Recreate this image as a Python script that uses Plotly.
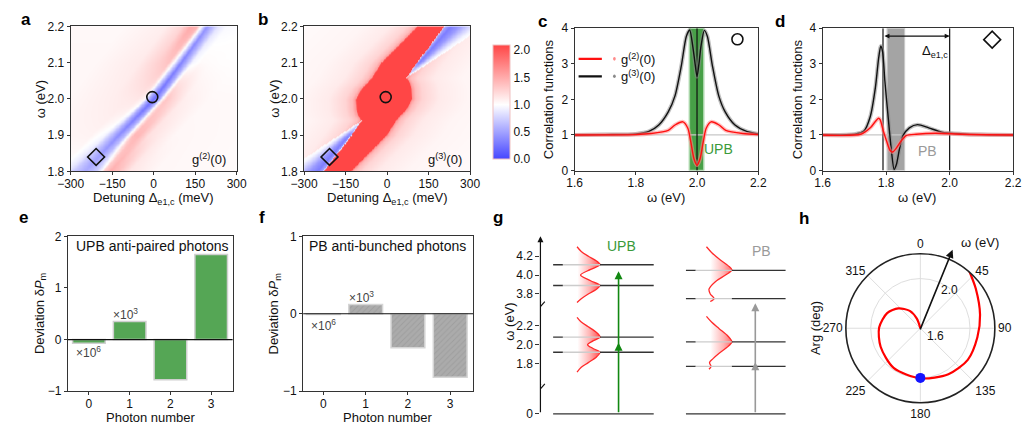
import numpy as np
import plotly.graph_objects as go

W, H = 1029, 432
FONT = "Liberation Sans, Arial, sans-serif"

# ---------------- data ----------------
# panel a: g2 map read row by row (omega) as profiles vs offset (meV) from the blue valley
a_rows = [1.8, 1.9, 2.0, 2.1, 2.2]
a_centers = [-250, -128, 0, 98, 192]
a_offsets = [
    [-300, -100, -60, -40, 0, 40, 58, 65, 90, 120, 160, 250, 600],
    [-300, -100, -50, -30, 0, 25, 40, 55, 75, 110, 200, 600],
    [-300, -150, -60, -35, -20, 0, 20, 32, 45, 70, 110, 200, 600],
    [-300, -150, -70, -45, -25, 0, 20, 40, 70, 150, 600],
    [-300, -150, -90, -60, -35, -18, 0, 18, 40, 70, 150, 600],
]
a_values = [
    [1.00, 1.00, 0.85, 0.70, 0.55, 0.70, 0.95, 1.25, 1.48, 1.38, 1.15, 1.05, 1.02],
    [1.05, 1.07, 0.95, 0.70, 0.38, 0.65, 1.08, 1.42, 1.42, 1.18, 1.05, 1.02],
    [1.05, 1.10, 1.14, 1.06, 0.58, 0.22, 0.55, 1.08, 1.35, 1.24, 1.10, 1.04, 1.02],
    [1.05, 1.12, 1.30, 1.36, 0.95, 0.32, 0.60, 0.95, 1.03, 1.01, 1.00],
    [1.04, 1.10, 1.25, 1.50, 1.45, 0.90, 0.42, 0.60, 0.85, 0.97, 1.00, 1.00],
]
# panel b: g3 map, red band edges (meV) per omega row, blue wedge outer edges, value profiles
b_rows = [1.8, 1.85, 1.9, 1.942, 1.955, 1.97, 2.0, 2.03, 2.045, 2.058, 2.1, 2.15, 2.2]
b_left = [-230, -180, -130, -92, -104, -110, -112, -90, -70, -55, -20, 45, 110]
b_right = [-134, -69, -4, 31, 46, 66, 88, 86, 80, 68, 106, 156, 204]
b_lw_rows = [1.8, 1.85, 1.9, 1.942]
b_lw_outer = [-349, -258, -168, -92]
b_uw_rows = [2.058, 2.1, 2.15, 2.2]
b_uw_outer = [68, 144, 234, 325]
b_glow_dist = [0, 3, 15, 40, 100, 200, 400]
b_glow_val = [2.1, 1.6, 1.4, 1.25, 1.12, 1.06, 1.03]
b_wedge_pos = [0, 0.05, 0.2, 0.45, 0.75, 1.0, 1.2]
b_wedge_val = [1.0, 0.5, 0.3, 0.45, 0.75, 0.95, 1.0]
mark_circle = (-5, 2.005)
mark_diamond = (-208, 1.84)

# panel c
c_g3_omega = [1.60, 1.70, 1.80, 1.843, 1.875, 1.906, 1.928, 1.949, 1.965, 1.976, 1.986, 1.993, 2.0,
              2.007, 2.013, 2.024, 2.034, 2.05, 2.071, 2.092, 2.124, 2.162, 2.20]
c_g3 = [1.0, 1.01, 1.03, 1.10, 1.28, 1.65, 2.10, 2.96, 3.77, 3.95, 3.50, 3.05, 2.64,
        3.05, 3.50, 3.94, 3.77, 2.96, 2.10, 1.65, 1.28, 1.10, 1.03]
c_g2_omega = [1.60, 1.80, 1.85, 1.906, 1.928, 1.954, 1.97, 1.98, 1.99, 2.0, 2.01, 2.02, 2.03,
              2.046, 2.072, 2.094, 2.15, 2.20]
c_g2 = [1.0, 1.01, 1.04, 1.13, 1.28, 1.37, 1.19, 0.79, 0.33, 0.15, 0.33, 0.79, 1.19,
        1.37, 1.28, 1.13, 1.04, 1.01]
c_band = (1.975, 2.022)

# panel d
d_g3_omega = [1.60, 1.70, 1.73, 1.75, 1.766, 1.776, 1.783, 1.789, 1.796, 1.807, 1.817, 1.825,
              1.832, 1.842, 1.853, 1.873, 1.899, 1.934, 1.975, 2.04, 2.10, 2.20]
d_g3 = [1.0, 1.02, 1.11, 1.52, 2.33, 3.14, 3.50, 3.32, 2.51, 1.43, 0.52, 0.03,
        0.16, 0.61, 0.98, 1.20, 1.29, 1.20, 1.08, 1.03, 1.01, 1.0]
d_g2_omega = [1.60, 1.72, 1.75, 1.766, 1.776, 1.781, 1.791, 1.801, 1.812, 1.82, 1.832, 1.848,
              1.863, 1.894, 1.955, 2.04, 2.20]
d_g2 = [1.0, 1.02, 1.20, 1.38, 1.47, 1.43, 1.11, 0.84, 0.57, 0.52, 0.63, 0.84,
        0.98, 1.02, 1.05, 1.02, 1.0]
d_band = (1.803, 1.858)
d_lines = [1.79, 2.0]

# panels e, f
photon_number = [0, 1, 2, 3]
e_dev = [-0.07, 0.35, -0.78, 1.65]
f_dev = [-0.01, 0.12, -0.44, -0.82]

# panel g (energy levels, eV)
upb_levels = [0.0, 1.92, 2.08, 3.89, 4.11]
pb_levels = [0.0, 1.77, 2.03, 3.75, 4.05]
g_ticks = [0, 1.8, 2.0, 2.2, 3.8, 4.0, 4.2]
upb_arrow = (4.04, 2.02)
pb_arrow = (3.70, 1.815)
upb_low_w = [2.29, 2.24, 2.19, 2.13, 2.08, 2.04, 2.0, 1.96, 1.92, 1.87, 1.81, 1.76, 1.71]
upb_low_a = [0.02, 0.2, 0.5, 0.85, 1.0, 0.7, 0.47, 0.7, 1.0, 0.85, 0.5, 0.2, 0.02]
upb_high_w = [4.30, 4.25, 4.20, 4.15, 4.11, 4.06, 4.0, 3.94, 3.89, 3.85, 3.80, 3.75, 3.71]
upb_high_a = [0.02, 0.2, 0.5, 0.85, 1.0, 0.6, 0.17, 0.6, 1.0, 0.85, 0.5, 0.2, 0.02]
pb_low_w = [2.30, 2.24, 2.17, 2.09, 2.03, 1.97, 1.91, 1.85, 1.81, 1.77, 1.74]
pb_low_a = [0.0, 0.2, 0.5, 0.85, 1.0, 0.8, 0.5, 0.25, 0.12, 0.18, 0.1]
pb_high_w = [4.30, 4.24, 4.17, 4.10, 4.055, 4.0, 3.93, 3.85, 3.80, 3.75, 3.72]
pb_high_a = [0.0, 0.2, 0.5, 0.85, 1.0, 0.75, 0.35, 0.1, 0.15, 0.3, 0.15]

# panel h (polar)
h_omega = [1.60, 1.683, 1.764, 1.839, 1.894, 1.932, 1.953, 1.985, 2.003, 2.034, 2.059, 2.065, 2.093, 2.148, 2.205]
h_arg = [330, 340, 328.6, 312, 294.5, 271, 245, 214, 180, 148.7, 123.7, 99, 77.2, 54.6, 40.7]
h_dot = (2.0, 180)


def X(p):
    return p / W


def Y(p):
    return 1 - p / H


fig = go.Figure()

# ---------- heat maps ----------
hm_delta = np.linspace(-300, 300, 301)
hm_omega = np.linspace(1.8, 2.2, 201)


def build_a():
    Z = np.empty((len(hm_omega), len(hm_delta)))
    n = len(a_rows)
    for i, w in enumerate(hm_omega):
        c = np.interp(w, a_rows, a_centers)
        k = min(max(np.searchsorted(a_rows, w, side="right") - 1, 0), n - 2)
        t = (w - a_rows[k]) / (a_rows[k + 1] - a_rows[k])
        p0 = np.interp(hm_delta - c, a_offsets[k], a_values[k])
        p1 = np.interp(hm_delta - c, a_offsets[k + 1], a_values[k + 1])
        Z[i] = (1 - t) * p0 + t * p1
    return Z


def wedge(s, width):
    pos = s / width
    wv = np.interp(pos, b_wedge_pos, b_wedge_val)
    f = min(1.0, width / 40.0)
    return 1 - (1 - wv) * f, (s > 0) & (pos <= b_wedge_pos[-1])


def build_b():
    Z = np.empty((len(hm_omega), len(hm_delta)))
    for i, w in enumerate(hm_omega):
        L = np.interp(w, b_rows, b_left)
        R = np.interp(w, b_rows, b_right)
        sL = L - hm_delta
        sR = hm_delta - R
        s = np.maximum(sL, sR)
        val = np.where(s <= 0, 2.1, np.interp(np.maximum(s, 0), b_glow_dist, b_glow_val))
        if w <= b_lw_rows[-1]:
            width = L - np.interp(w, b_lw_rows, b_lw_outer)
            if width > 0:
                wv, m = wedge(sL, width)
                val = np.where(m, wv, val)
        if w >= b_uw_rows[0]:
            width = np.interp(w, b_uw_rows, b_uw_outer) - R
            if width > 0:
                wv, m = wedge(sR, width)
                val = np.where(m, wv, val)
        Z[i] = val
    return Z


fig.add_trace(go.Heatmap(x=hm_delta, y=hm_omega, z=build_a(), coloraxis="coloraxis", zsmooth="best",
                         xaxis="x", yaxis="y", hoverinfo="skip"))
fig.add_trace(go.Heatmap(x=hm_delta, y=hm_omega, z=build_b(), coloraxis="coloraxis", zsmooth="best",
                         xaxis="x2", yaxis="y2", hoverinfo="skip"))
for xa, ya in (("x", "y"), ("x2", "y2")):
    fig.add_trace(go.Scatter(x=[mark_circle[0]], y=[mark_circle[1]], mode="markers", xaxis=xa, yaxis=ya,
                             marker=dict(symbol="circle-open", size=11, color="#111", line=dict(width=1.6))))
    fig.add_trace(go.Scatter(x=[mark_diamond[0]], y=[mark_diamond[1]], mode="markers", xaxis=xa, yaxis=ya,
                             marker=dict(symbol="diamond-open", size=13, color="#111", line=dict(width=1.6))))


# ---------- c, d curves ----------
def curve(xs, ys, xa, ya, col, halo):
    fig.add_trace(go.Scatter(x=xs, y=ys, mode="lines", xaxis=xa, yaxis=ya,
                             line=dict(color=halo, width=4, shape="spline", smoothing=0.7), opacity=0.55))
    fig.add_trace(go.Scatter(x=xs, y=ys, mode="lines", xaxis=xa, yaxis=ya,
                             line=dict(color=col, width=1.4, shape="spline", smoothing=0.7)))


curve(c_g3_omega, c_g3, "x3", "y3", "#111111", "#8a8a8a")
curve(c_g2_omega, c_g2, "x3", "y3", "#ff1010", "#ff8a8a")
curve(d_g3_omega, d_g3, "x4", "y4", "#111111", "#8a8a8a")
curve(d_g2_omega, d_g2, "x4", "y4", "#ff1010", "#ff8a8a")
fig.add_trace(go.Scatter(x=[2.132], y=[3.69], mode="markers", xaxis="x3", yaxis="y3",
                         marker=dict(symbol="circle-open", size=11, color="#111", line=dict(width=1.6))))
fig.add_trace(go.Scatter(x=[2.134], y=[3.68], mode="markers", xaxis="x4", yaxis="y4",
                         marker=dict(symbol="diamond-open", size=13, color="#111", line=dict(width=1.6))))

# ---------- e, f bars ----------
fig.add_trace(go.Bar(x=photon_number, y=e_dev, xaxis="x5", yaxis="y5", width=0.8,
                     marker=dict(color="#55a655", line=dict(color="#cfcfcf", width=1.5))))
fig.add_trace(go.Bar(x=photon_number, y=f_dev, xaxis="x6", yaxis="y6", width=0.8,
                     marker=dict(color="#ababab", line=dict(color="#d5d5d5", width=1.5),
                                 pattern=dict(shape="/", fgcolor="#8f8f8f", bgcolor="#ababab", size=4, solidity=0.25))))


# ---------- g energy diagram ----------
def disp(w):
    if w < 1.0:
        return 1.2667 + w
    if w < 3.0:
        return w
    return w - 1.262


shapes = []
annots = []
g_x = dict(upb=(552, 562, 600, 655), pb=(688, 698, 735, 790))
for key, levels in (("upb", upb_levels), ("pb", pb_levels)):
    x0, x1, x2, x3 = g_x[key]
    for lv in levels:
        yv = disp(lv)
        if lv == 0:
            shapes.append(dict(type="line", xref="x7", yref="y7", x0=x0, x1=x3, y0=yv, y1=yv,
                               line=dict(color="#333", width=1.4)))
        else:
            shapes.append(dict(type="line", xref="x7", yref="y7", x0=x0, x1=x1, y0=yv, y1=yv,
                               line=dict(color="#333", width=1.4)))
            shapes.append(dict(type="line", xref="x7", yref="y7", x0=x1, x1=x2, y0=yv, y1=yv,
                               line=dict(color="#cccccc", width=1.4)))
            shapes.append(dict(type="line", xref="x7", yref="y7", x0=x2, x1=x3, y0=yv, y1=yv,
                               line=dict(color="#333", width=1.4)))

for ws, amps, base, amp in ((upb_low_w, upb_low_a, 576, 24), (upb_high_w, upb_high_a, 576, 24),
                            (pb_low_w, pb_low_a, 709, 26), (pb_high_w, pb_high_a, 709, 26)):
    xs = [base + amp * a for a in amps]
    ys = [disp(w) for w in ws]
    fig.add_trace(go.Scatter(x=xs, y=ys, mode="lines", xaxis="x7", yaxis="y7", fill="toself",
                             line=dict(color="#ff2a2a", width=1.3, shape="spline", smoothing=0.9),
                             fillgradient=dict(type="horizontal", start=base, stop=base + amp,
                                               colorscale=[[0, "rgba(255,80,80,0)"], [0.5, "rgba(255,70,70,0.4)"],
                                                           [1, "rgba(255,40,40,0.92)"]])))

# transition arrows
for xpos, (top, mid), col in ((619, upb_arrow, "#118811"), (759, pb_arrow, "#999999")):
    annots.append(dict(x=xpos, y=disp(top), ax=xpos, ay=disp(0), xref="x7", yref="y7", axref="x7", ayref="y7",
                       text="", showarrow=True, arrowhead=2, arrowsize=1, arrowwidth=1.6, arrowcolor=col, standoff=0))
    annots.append(dict(x=xpos, y=disp(mid), ax=xpos, ay=disp(mid) - 0.08, xref="x7", yref="y7", axref="x7", ayref="y7",
                       text="", showarrow=True, arrowhead=2, arrowsize=1, arrowwidth=1.6, arrowcolor=col, standoff=0))
# axis arrow
annots.append(dict(x=539, y=3.1487, ax=539, ay=disp(0), xref="x7", yref="y7", axref="x7", ayref="y7",
                   text="", showarrow=True, arrowhead=2, arrowsize=1, arrowwidth=1.2, arrowcolor="#111", standoff=0))
for bp in (308, 393):
    yb = 2.0 + (349 - bp) / 97.5
    for dx in (-2.5, 1.5):
        shapes.append(dict(type="line", xref="x7", yref="y7", x0=539 + dx - 3, x1=539 + dx + 3,
                           y0=yb - 0.035, y1=yb + 0.035, line=dict(color="#111", width=1.2)))

# ---------- h polar ----------
fig.add_trace(go.Scatterpolar(r=h_omega, theta=h_arg, mode="lines", subplot="polar",
                              line=dict(color="#ff0000", width=2.2, shape="spline", smoothing=0.8)))
fig.add_trace(go.Scatterpolar(r=[h_dot[0]], theta=[h_dot[1]], mode="markers", subplot="polar",
                              marker=dict(color="#1414ff", size=10)))

# ---------- shapes for c, d ----------
shapes += [
    dict(type="rect", xref="x3", yref="y3", x0=c_band[0], x1=c_band[1], y0=0, y1=4, layer="below",
         fillcolor="#48a048", line=dict(color="#a8d6a8", width=1.5)),
    dict(type="line", xref="x3", yref="y3", x0=1.6, x1=2.2, y0=1, y1=1, layer="below",
         line=dict(color="#c8c8c8", width=1.2)),
    dict(type="line", xref="x3", yref="y3", x0=2.0, x1=2.0, y0=0, y1=4, layer="below",
         line=dict(color="#111", width=1.2)),
    dict(type="rect", xref="x4", yref="y4", x0=d_band[0], x1=d_band[1], y0=0, y1=4, layer="below",
         fillcolor="#a4a4a4", line=dict(color="#c8c8c8", width=1.2)),
    dict(type="line", xref="x4", yref="y4", x0=1.6, x1=2.2, y0=1, y1=1, layer="below",
         line=dict(color="#c8c8c8", width=1.2)),
]
for xl in d_lines:
    shapes.append(dict(type="line", xref="x4", yref="y4", x0=xl, x1=xl, y0=0, y1=4, layer="below",
                       line=dict(color="#111", width=1.2)))
# legend in c
for yv, col, dot, lab in ((3.14, "#ff1010", "#ff8a8a", "g<sup>(2)</sup>(0)"), (2.65, "#111", "#8a8a8a", "g<sup>(3)</sup>(0)")):
    shapes.append(dict(type="line", xref="x3", yref="y3", x0=1.613, x1=1.689, y0=yv, y1=yv,
                       line=dict(color=col, width=2.2)))
    shapes.append(dict(type="circle", xref="x3", yref="y3", x0=1.7255, x1=1.7345, y0=yv - 0.05, y1=yv + 0.05,
                       fillcolor=dot, line=dict(width=0)))
    annots.append(dict(x=1.745, y=yv, xref="x3", yref="y3", text=lab, showarrow=False, xanchor="left",
                       font=dict(size=13, color="#111")))

# delta arrow in d
annots.append(dict(x=2.0, y=3.78, ax=1.79, ay=3.78, xref="x4", yref="y4", axref="x4", ayref="y4", text="",
                   showarrow=True, arrowhead=2, arrowside="end+start", arrowsize=0.9, arrowwidth=1.1,
                   arrowcolor="#111", standoff=0, startstandoff=0))
annots.append(dict(x=1.955, y=3.35, xref="x4", yref="y4", text="Δ<sub>e1,c</sub>", showarrow=False,
                   font=dict(size=13, color="#111")))
annots.append(dict(x=2.07, y=0.6, xref="x3", yref="y3", text="UPB", showarrow=False,
                   font=dict(size=14, color="#3a9a3a")))
annots.append(dict(x=1.93, y=0.55, xref="x4", yref="y4", text="PB", showarrow=False,
                   font=dict(size=14, color="#9a9a9a")))
annots.append(dict(x=200, y=1.835, xref="x", yref="y", text="g<sup>(2)</sup>(0)", showarrow=False,
                   font=dict(size=13, color="#111")))
annots.append(dict(x=210, y=1.835, xref="x2", yref="y2", text="g<sup>(3)</sup>(0)", showarrow=False,
                   font=dict(size=13, color="#111")))

# e,f texts
annots += [
    dict(x=X(61), y=Y(247), xref="paper", yref="paper", text="UPB anti-paired photons", showarrow=False,
         xanchor="left", font=dict(size=14, color="#111")),
    dict(x=X(300), y=Y(247), xref="paper", yref="paper", text="PB anti-bunched photons", showarrow=False,
         xanchor="left", font=dict(size=14, color="#111")),
    dict(x=0.0, y=-0.25, xref="x5", yref="y5", text="×10<sup>6</sup>", showarrow=False, font=dict(size=12, color="#444")),
    dict(x=0.9, y=0.5, xref="x5", yref="y5", text="×10<sup>3</sup>", showarrow=False, font=dict(size=12, color="#444")),
    dict(x=0.0, y=-0.15, xref="x6", yref="y6", text="×10<sup>6</sup>", showarrow=False, font=dict(size=12, color="#444")),
    dict(x=0.9, y=0.22, xref="x6", yref="y6", text="×10<sup>3</sup>", showarrow=False, font=dict(size=12, color="#444")),
]
# g texts
annots += [
    dict(x=622, y=disp(4.3) + 0.01, xref="x7", yref="y7", text="UPB", showarrow=False, font=dict(size=14, color="#3a9a3a")),
    dict(x=765, y=disp(4.25), xref="x7", yref="y7", text="PB", showarrow=False, font=dict(size=14, color="#9a9a9a")),
]
# h texts
annots += [
    dict(x=X(961), y=Y(251), ax=-33, ay=81, xref="paper", yref="paper", text="", showarrow=True,
         arrowhead=2, arrowsize=1, arrowwidth=1.6, arrowcolor="#111", standoff=0),
    dict(x=X(968), y=Y(243), xref="paper", yref="paper", text="ω (eV)", showarrow=False, xanchor="left",
         font=dict(size=13, color="#111")),
    dict(x=X(820), y=Y(332), xref="paper", yref="paper", text="Arg (deg)", showarrow=False, textangle=-90,
         font=dict(size=13, color="#111")),
    dict(x=X(943), y=Y(340), xref="paper", yref="paper", text="1.6", showarrow=False,
         font=dict(size=12, color="#111")),
    dict(x=X(958), y=Y(292), xref="paper", yref="paper", text="2.0", showarrow=False,
         font=dict(size=12, color="#111")),
]
# axis titles
titles = [
    (143, 198, "Detuning Δ<sub>e1,c</sub> (meV)", 0), (28, 95, "ω (eV)", -90),
    (382, 198, "Detuning Δ<sub>e1,c</sub> (meV)", 0), (267, 95, "ω (eV)", -90),
    (668, 197, "ω (eV)", 0), (548, 95, "Correlation functions", -90),
    (925, 197, "ω (eV)", 0), (803, 95, "Correlation functions", -90),
    (140, 424, "Photon number", 0), (27, 317, "Deviation δ<i>P</i><sub>m</sub>", -90),
    (383, 424, "Photon number", 0), (267, 317, "Deviation δ<i>P</i><sub>m</sub>", -90),
    (507, 325, "ω (eV)", -90),
]
for tx, ty, t, ang in titles:
    annots.append(dict(x=X(tx), y=Y(ty), xref="paper", yref="paper", text=t, showarrow=False, textangle=ang,
                       font=dict(size=13, color="#111")))
for tx, ty, t in ((12, 13, "a"), (255, 13, "b"), (541, 15, "c"), (784, 15, "d"),
                  (10, 218, "e"), (254, 218, "f"), (496, 218, "g"), (809, 219, "h")):
    annots.append(dict(x=X(tx), y=Y(ty), xref="paper", yref="paper", text="<b>%s</b>" % t, showarrow=False,
                       font=dict(size=17, color="#000")))
for a in annots:
    a.setdefault("xanchor", "center")
    a.setdefault("yanchor", "middle")

# ---------- axes ----------
ax_common = dict(showgrid=False, zeroline=False, showline=True, linecolor="#333", linewidth=1, mirror=True,
                 ticks="outside", ticklen=3, tickcolor="#333", tickfont=dict(size=12, color="#111"))
ax_bot = dict(ax_common, ticklabelstandoff=-2)


def dom(a, b, size):
    return [a / size, b / size]


layout = dict(
    width=W, height=H, margin=dict(l=0, r=0, t=0, b=0), paper_bgcolor="white", plot_bgcolor="white",
    showlegend=False, font=dict(family=FONT, size=12, color="#111"),
    coloraxis=dict(cmin=0, cmax=2.1,
                   colorscale=[[0, "#4646ff"], [1 / 2.1, "#ffffff"], [1, "#ff4646"]],
                   colorbar=dict(x=X(480), xanchor="left", y=Y(98), yanchor="middle", len=138 / H,
                                 thickness=17, tickvals=[0, 0.5, 1, 1.5, 2], ticktext=["0.0", "0.5", "1.0", "1.5", "2.0"],
                                 ticks="", outlinewidth=1, outlinecolor="#f0c0c0", tickfont=dict(size=12, color="#111"))),
    xaxis=dict(domain=dom(58, 228, W), range=[-300, 300], tickvals=[-300, -150, 0, 150, 300], anchor="y", **ax_bot),
    yaxis=dict(domain=[Y(170), Y(20)], range=[1.8, 2.2], tickvals=[1.8, 1.9, 2.0, 2.1, 2.2], tickformat=".1f",
               anchor="x", **ax_common),
    xaxis2=dict(domain=dom(297, 467, W), range=[-300, 300], tickvals=[-300, -150, 0, 150, 300], anchor="y2", **ax_bot),
    yaxis2=dict(domain=[Y(170), Y(20)], range=[1.8, 2.2], tickvals=[1.8, 1.9, 2.0, 2.1, 2.2], tickformat=".1f",
                anchor="x2", **ax_common),
    xaxis3=dict(domain=dom(574, 762, W), range=[1.6, 2.2], tickvals=[1.6, 1.8, 2.0, 2.2], tickformat=".1f",
                anchor="y3", **ax_bot),
    yaxis3=dict(domain=[Y(169), Y(22)], range=[0, 4], tickvals=[0, 1, 2, 3, 4], anchor="x3", **ax_common),
    xaxis4=dict(domain=dom(828, 1023, W), range=[1.6, 2.2], tickvals=[1.6, 1.8, 2.0, 2.2], tickformat=".1f",
                anchor="y4", **ax_bot),
    yaxis4=dict(domain=[Y(169), Y(22)], range=[0, 4], tickvals=[0, 1, 2, 3, 4], anchor="x4", **ax_common),
    xaxis5=dict(domain=dom(55, 224, W), range=[-0.52, 3.53], tickvals=[0, 1, 2, 3], anchor="y5", **ax_bot),
    yaxis5=dict(domain=[Y(397), Y(237)], range=[-1, 2], tickvals=[-1, 0, 1, 2], anchor="x5", **ax_common),
    xaxis6=dict(domain=dom(296, 470, W), range=[-0.48, 3.54], tickvals=[0, 1, 2, 3], anchor="y6", **ax_bot),
    yaxis6=dict(domain=[Y(397), Y(237)], range=[-1, 1], tickvals=[-1, 0, 1], anchor="x6", **ax_common),
    xaxis7=dict(domain=dom(539, 800, W), range=[539, 800], visible=False, anchor="y7"),
    yaxis7=dict(domain=[Y(425), Y(237)], range=[2.0 - (425 - 349) / 97.5, 2.0 + (349 - 237) / 97.5],
                tickvals=[disp(t) for t in g_ticks], ticktext=["0", "1.8", "2.0", "2.2", "3.8", "4.0", "4.2"],
                showgrid=False, zeroline=False, showline=False, ticks="outside", ticklen=4, tickcolor="#333",
                tickfont=dict(size=12, color="#111"), anchor="x7"),
    polar=dict(domain=dict(x=[851 / W, 1005 / W], y=[Y(409), Y(255)]), bgcolor="white",
               angularaxis=dict(rotation=90, direction="clockwise", tickvals=[0, 45, 90, 135, 180, 225, 270, 315],
                                ticktext=["0", "45", "90", "135", "180", "225", "270", "315"], showline=True,
                                linecolor="#222", linewidth=1.6, gridcolor="#dedede", ticks="",
                                tickfont=dict(size=12, color="#111")),
               radialaxis=dict(range=[1.6, 2.2], tickvals=[1.6, 2.0], showticklabels=False, angle=68,
                               showline=False, gridcolor="#dedede", ticks="")),
    annotations=annots,
)
layout["shapes"] = shapes + [
    dict(type="line", xref="x5", yref="y5", x0=-0.52, x1=3.53, y0=0, y1=0, line=dict(color="#111", width=1.2)),
    dict(type="line", xref="x6", yref="y6", x0=-0.48, x1=3.54, y0=0, y1=0, line=dict(color="#111", width=1.2)),
]
fig.update_layout(**layout)
fig.write_html("out.html")
